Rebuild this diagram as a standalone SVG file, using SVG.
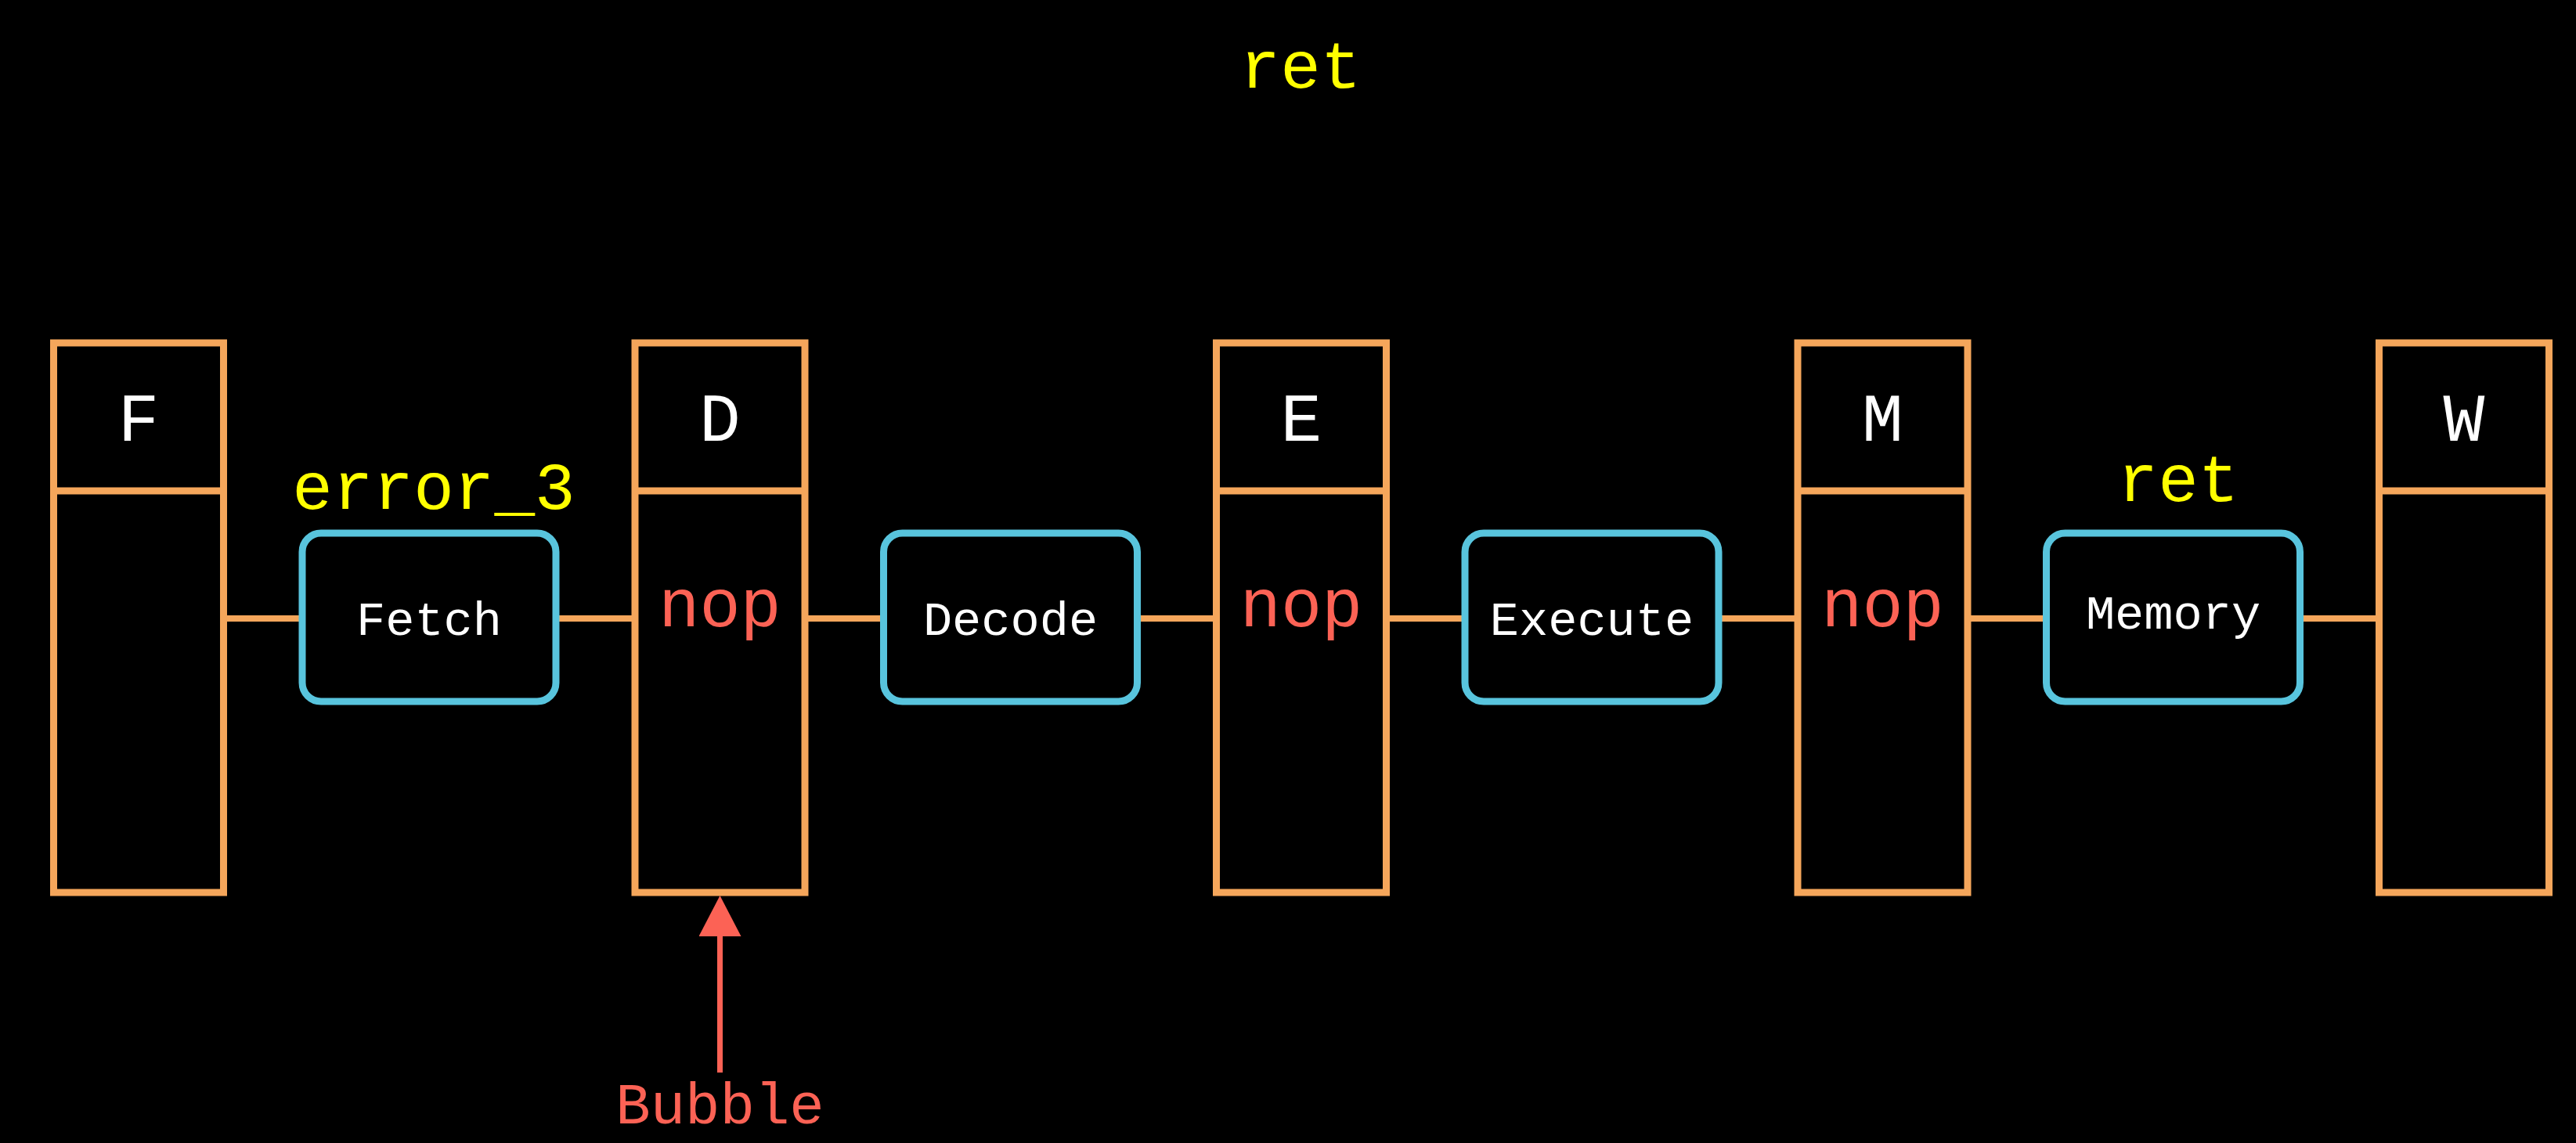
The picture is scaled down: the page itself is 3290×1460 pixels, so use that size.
<svg xmlns="http://www.w3.org/2000/svg" width="3290" height="1460" viewBox="0 0 3290 1460">
<style>
.bg{fill:#000000}
.stage{fill:none;stroke:#F5A65B;stroke-width:9}
.proc{fill:#000000;stroke:#58C4DD;stroke-width:9}
.wire{stroke:#F5A65B;stroke-width:8;fill:none}
.txt{font-family:"Liberation Mono","DejaVu Sans Mono",monospace;text-anchor:middle}
.hdr{font-size:88px;fill:#FFFFFF}
.lbl{font-size:62px;fill:#FFFFFF}
.nop{font-size:87px;fill:#FC6255}
.ins{font-size:86px;fill:#FFFF00}
.bub{font-size:74px;fill:#FC6255}
.arrow{stroke:#FC6255;stroke-width:7;fill:none}
</style>
<defs>
<marker id="ah" markerWidth="52" markerHeight="56" refX="0" refY="27" orient="auto" markerUnits="userSpaceOnUse">
<path d="M0,0 L52,27 L0,54 z" fill="#FC6255"/>
</marker>
</defs>
<rect class="bg" x="0" y="0" width="3290" height="1460"/>

<g id="connectors">
<line class="wire" x1="285" y1="790" x2="386" y2="790"/>
<line class="wire" x1="710" y1="790" x2="811" y2="790"/>
<line class="wire" x1="1028" y1="790" x2="1129" y2="790"/>
<line class="wire" x1="1452" y1="790" x2="1554" y2="790"/>
<line class="wire" x1="1771" y1="790" x2="1871" y2="790"/>
<line class="wire" x1="2195" y1="790" x2="2296" y2="790"/>
<line class="wire" x1="2513" y1="790" x2="2614" y2="790"/>
<line class="wire" x1="2937" y1="790" x2="3039" y2="790"/>
<line class="arrow" x1="919.5" y1="1370" x2="919.5" y2="1196" marker-end="url(#ah)"/>
</g>

<g id="stage-F">
<rect class="stage" x="68.5" y="438" width="217" height="702"/>
<line class="stage" x1="68.5" y1="627" x2="285.5" y2="627"/>
<text class="txt hdr" x="177" y="563">F</text>
</g>
<g id="stage-D">
<rect class="stage" x="811" y="438" width="217" height="702"/>
<line class="stage" x1="811" y1="627" x2="1028" y2="627"/>
<text class="txt hdr" x="919.5" y="563">D</text>
<text class="txt nop" x="919.5" y="800">nop</text>
</g>
<g id="stage-E">
<rect class="stage" x="1553.5" y="438" width="217" height="702"/>
<line class="stage" x1="1553.5" y1="627" x2="1770.5" y2="627"/>
<text class="txt hdr" x="1662" y="563">E</text>
<text class="txt nop" x="1662" y="800">nop</text>
</g>
<g id="stage-M">
<rect class="stage" x="2296" y="438" width="217" height="702"/>
<line class="stage" x1="2296" y1="627" x2="2513" y2="627"/>
<text class="txt hdr" x="2404.5" y="563">M</text>
<text class="txt nop" x="2404.5" y="800">nop</text>
</g>
<g id="stage-W">
<rect class="stage" x="3038.5" y="438" width="217" height="702"/>
<line class="stage" x1="3038.5" y1="627" x2="3255.5" y2="627"/>
<text class="txt hdr" x="3147" y="563">W</text>
</g>

<g id="proc-fetch">
<rect class="proc" x="386" y="681" width="324" height="215" rx="24" ry="24"/>
<text class="txt lbl" x="548" y="811">Fetch</text>
</g>
<g id="proc-decode">
<rect class="proc" x="1128.5" y="681" width="324" height="215" rx="24" ry="24"/>
<text class="txt lbl" x="1290.5" y="811">Decode</text>
</g>
<g id="proc-execute">
<rect class="proc" x="1871" y="681" width="324" height="215" rx="24" ry="24"/>
<text class="txt lbl" x="2033" y="811">Execute</text>
</g>
<g id="proc-memory">
<rect class="proc" x="2613.5" y="681" width="324" height="215" rx="24" ry="24"/>
<text class="txt lbl" x="2775.5" y="803">Memory</text>
</g>

<g id="labels">
<text class="txt ins" x="1661" y="112">ret</text>
<text class="txt ins" x="554" y="650">error_3</text>
<text class="txt ins" x="2782" y="640">ret</text>
<text class="txt bub" x="919.5" y="1435">Bubble</text>
</g>
</svg>
